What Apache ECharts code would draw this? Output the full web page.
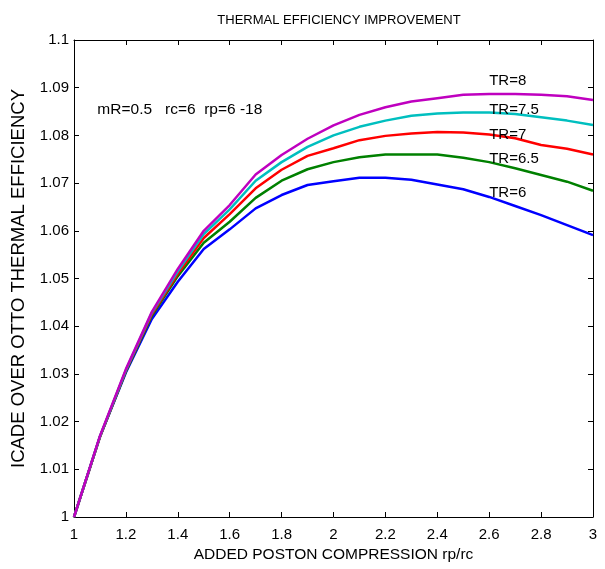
<!DOCTYPE html>
<html>
<head>
<meta charset="utf-8">
<script src="https://cdn.jsdelivr.net/npm/echarts@6/dist/echarts.min.js"></script>
<style>
html,body{margin:0;padding:0;background:#fff;}
#c{width:605px;height:569px;}
</style>
</head>
<body>
<div id="c"></div>
<script>
var xValues = [1.0,1.1,1.2,1.3,1.4,1.5,1.6,1.7,1.8,1.9,2.0,2.1,2.2,2.3,2.4,2.5,2.6,2.7,2.8,2.9,3.0];
var tr6  = [1.0,1.0168,1.0303,1.0415,1.0493,1.0562,1.0603,1.0647,1.0675,1.0696,1.0704,1.0711,1.0711,1.0707,1.0697,1.0687,1.0671,1.0652,1.0633,1.0612,1.0591];
var tr65 = [1.0,1.0168,1.0305,1.0422,1.0505,1.0575,1.0619,1.0669,1.0705,1.0729,1.0744,1.0754,1.0760,1.0760,1.0760,1.0753,1.0744,1.0731,1.0717,1.0703,1.0684];
var tr7  = [1.0,1.0168,1.0307,1.0425,1.0510,1.0585,1.0635,1.0689,1.0728,1.0757,1.0773,1.0790,1.0799,1.0804,1.0807,1.0806,1.0802,1.0794,1.0780,1.0772,1.0760];
var tr75 = [1.0,1.0169,1.0308,1.0428,1.0515,1.0593,1.0645,1.0705,1.0744,1.0776,1.0800,1.0818,1.0831,1.0841,1.0846,1.0848,1.0848,1.0845,1.0838,1.0831,1.0822];
var tr8  = [1.0,1.0170,1.0310,1.0430,1.0520,1.0600,1.0654,1.0718,1.0759,1.0793,1.0821,1.0843,1.0859,1.0871,1.0878,1.0885,1.0887,1.0887,1.0885,1.0882,1.0874];
var seriesNames = ['TR=6','TR=6.5','TR=7','TR=7.5','TR=8'];
var annoX = [2.6,2.6,2.6,2.6,2.6];
var annoY = [1.0679,1.0751,1.0801,1.0853,1.0914];
var noteText = 'mR=0.5   rc=6  rp=6 -18';
var noteX = 1.09, noteY = 1.0853;
var titleText = 'THERMAL EFFICIENCY IMPROVEMENT';
var xName = 'ADDED POSTON COMPRESSION rp/rc';
var yName = 'ICADE OVER OTTO THERMAL EFFICIENCY';

var colors = ['#0000ff','#008000','#ff0000','#00bfbf','#bf00bf'];
var allY = [tr6,tr65,tr7,tr75,tr8];
var SANS = '"Liberation Sans",Arial,sans-serif';

function pairs(ys){ return xValues.map(function(x,i){ return [x, ys[i]]; }); }

var chart = echarts.init(document.getElementById('c'), null, {renderer:'canvas'});
var axisLineStyle = {color:'#000', width:1};
var option = {
  animation:false,
  backgroundColor:'#fff',
  title:{text:titleText,left:334,top:9,textAlign:'center',
    textStyle:{fontFamily:SANS,fontSize:13,fontWeight:'normal',color:'#000'}},
  grid:{left:74,right:12,top:40,bottom:52,containLabel:false},
  xAxis:[{
    type:'value',min:1,max:3,interval:0.2,position:'bottom',
    name:xName,nameLocation:'middle',nameGap:29,
    nameTextStyle:{fontFamily:SANS,fontSize:15.5,color:'#000'},
    axisLine:{show:true,onZero:false,lineStyle:axisLineStyle},
    axisTick:{show:true,inside:true,length:5,lineStyle:axisLineStyle},
    axisLabel:{fontFamily:SANS,fontSize:15,color:'#000',margin:10},
    splitLine:{show:false}
  },{
    type:'value',min:1,max:3,interval:0.2,position:'top',
    axisLine:{show:true,onZero:false,lineStyle:axisLineStyle},
    axisTick:{show:true,inside:true,length:5,lineStyle:axisLineStyle},
    axisLabel:{show:false},splitLine:{show:false}
  }],
  yAxis:[{
    type:'value',min:1,max:1.1,interval:0.01,position:'left',
    name:yName,nameLocation:'middle',nameGap:45,nameRotate:90,
    nameTextStyle:{fontFamily:SANS,fontSize:18.5,color:'#000'},
    axisLine:{show:true,onZero:false,lineStyle:axisLineStyle},
    axisTick:{show:true,inside:true,length:5,lineStyle:axisLineStyle},
    axisLabel:{fontFamily:SANS,fontSize:15,color:'#000',margin:5},
    splitLine:{show:false}
  },{
    type:'value',min:1,max:1.1,interval:0.01,position:'right',
    axisLine:{show:true,onZero:false,lineStyle:axisLineStyle},
    axisTick:{show:true,inside:true,length:5,lineStyle:axisLineStyle},
    axisLabel:{show:false},splitLine:{show:false}
  }],
  series: allY.map(function(ys,i){
    return {type:'line',name:seriesNames[i],data:pairs(ys),xAxisIndex:0,yAxisIndex:0,
      symbol:'none',smooth:false,lineStyle:{color:colors[i],width:2.5},itemStyle:{color:colors[i]},z:2+i};
  })
};
chart.setOption(option);

var g = [];
for (var i=0;i<seriesNames.length;i++){
  var p = chart.convertToPixel({xAxisIndex:0,yAxisIndex:0},[annoX[i],annoY[i]]);
  g.push({type:'text',x:p[0],y:p[1],z:10,
    style:{text:seriesNames[i],font:'15px '+SANS,fill:'#000',textAlign:'left',textVerticalAlign:'middle'}});
}
var np = chart.convertToPixel({xAxisIndex:0,yAxisIndex:0},[noteX,noteY]);
g.push({type:'text',x:np[0],y:np[1],z:10,
  style:{text:noteText,font:'15.5px '+SANS,fill:'#000',textAlign:'left',textVerticalAlign:'middle'}});
chart.setOption({graphic:g});
</script>
</body>
</html>
